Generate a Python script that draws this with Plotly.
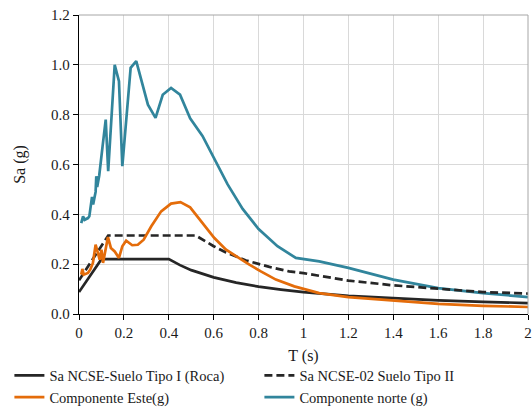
import plotly.graph_objects as go

# ---- data ----
t_roca = [0.0, 0.1, 0.4, 0.45, 0.5, 0.6, 0.7, 0.8, 0.9, 1.0, 1.2, 1.4, 1.6, 1.8, 2.0]
sa_roca = [0.088, 0.22, 0.22, 0.196, 0.176, 0.147, 0.126, 0.11, 0.098, 0.088, 0.073, 0.063, 0.055, 0.049, 0.044]

t_tipo2 = [0.0, 0.13, 0.52, 0.6, 0.655, 0.744, 0.848, 0.936, 1.0, 1.2, 1.4, 1.6, 1.8, 2.0]
sa_tipo2 = [0.135, 0.315, 0.315, 0.272, 0.247, 0.215, 0.189, 0.171, 0.164, 0.134, 0.115, 0.1, 0.088, 0.082]

t_este = [0.01, 0.015, 0.021, 0.03, 0.04, 0.05, 0.062, 0.074, 0.079, 0.085, 0.092, 0.1, 0.107,
          0.118, 0.129, 0.142, 0.159, 0.178, 0.193, 0.21, 0.237, 0.262, 0.288, 0.322, 0.366,
          0.41, 0.452, 0.495, 0.551, 0.603, 0.655, 0.707, 0.759, 0.81, 0.877, 0.959, 1.07,
          1.2, 1.4, 1.6, 1.8, 2.0]
sa_este = [0.158, 0.181, 0.158, 0.162, 0.165, 0.178, 0.205, 0.278, 0.255, 0.242, 0.218, 0.258, 0.205,
           0.26, 0.309, 0.265, 0.251, 0.225, 0.272, 0.294, 0.276, 0.278, 0.298, 0.352, 0.412,
           0.443, 0.449, 0.428, 0.365, 0.305, 0.258, 0.227, 0.198, 0.171, 0.138, 0.111, 0.084,
           0.068, 0.055, 0.041, 0.033, 0.028]

t_norte = [0.01, 0.018, 0.025, 0.031, 0.04, 0.046, 0.053, 0.058, 0.063, 0.068, 0.074, 0.077,
           0.081, 0.085, 0.09, 0.105, 0.119, 0.13, 0.159, 0.178, 0.193, 0.23, 0.255, 0.307,
           0.341, 0.373, 0.41, 0.45, 0.495, 0.55, 0.611, 0.662, 0.729, 0.8, 0.884, 0.966,
           1.07, 1.2, 1.4, 1.6, 1.8, 2.0]
sa_norte = [0.365, 0.392, 0.378, 0.38, 0.385, 0.392, 0.452, 0.47, 0.44, 0.462, 0.49, 0.553,
            0.51, 0.53, 0.555, 0.673, 0.78, 0.573, 1.0, 0.934, 0.593, 0.988, 1.015, 0.84,
            0.787, 0.88, 0.907, 0.88, 0.785, 0.715, 0.606, 0.52, 0.422, 0.341, 0.272, 0.225,
            0.211, 0.185, 0.138, 0.104, 0.084, 0.068]

x_ticks = [0, 0.2, 0.4, 0.6, 0.8, 1.0, 1.2, 1.4, 1.6, 1.8, 2.0]
x_tick_labels = ["0", "0.2", "0.4", "0.6", "0.8", "1", "1.2", "1.4", "1.6", "1.8", "2"]
y_ticks = [0.0, 0.2, 0.4, 0.6, 0.8, 1.0, 1.2]
y_tick_labels = ["0.0", "0.2", "0.4", "0.6", "0.8", "1.0", "1.2"]

FONT = "Liberation Serif, Times New Roman, serif"
TXT = "#1a1a1a"

fig = go.Figure()
fig.add_trace(go.Scatter(x=t_norte, y=sa_norte, mode="lines", name="Componente norte (g)",
                         line=dict(color="#31859C", width=2.7), legendrank=4))
fig.add_trace(go.Scatter(x=t_tipo2, y=sa_tipo2, mode="lines", name="Sa NCSE-02 Suelo Tipo II",
                         line=dict(color="#262626", width=2.7, dash="8px,4px"), legendrank=2))
fig.add_trace(go.Scatter(x=t_roca, y=sa_roca, mode="lines", name="Sa NCSE-Suelo Tipo I (Roca)",
                         line=dict(color="#262626", width=2.7), legendrank=1))
fig.add_trace(go.Scatter(x=t_este, y=sa_este, mode="lines", name="Componente Este(g)",
                         line=dict(color="#E46C0A", width=2.7), legendrank=3))

fig.update_layout(
    width=532, height=407,
    margin=dict(l=79, r=4, t=15, b=93, autoexpand=False),
    paper_bgcolor="white", plot_bgcolor="white",
    font=dict(family=FONT, size=15, color=TXT),
    showlegend=True,
    legend=dict(orientation="h", x=-0.155, xanchor="left", y=-0.152, yanchor="top",
                font=dict(family=FONT, size=14.5, color=TXT),
                entrywidth=205, entrywidthmode="pixels",
                bgcolor="rgba(0,0,0,0)", tracegroupgap=0, itemwidth=30),
    shapes=[
        dict(type="line", xref="paper", yref="paper", x0=0, x1=1, y0=1, y1=1,
             line=dict(color="#A6A6A6", width=1)),
        dict(type="line", xref="paper", yref="paper", x0=1, x1=1, y0=0, y1=1,
             line=dict(color="#A6A6A6", width=1)),
    ],
)
fig.update_xaxes(range=[0, 2], tickvals=x_ticks, ticktext=x_tick_labels,
                 showgrid=True, gridcolor="#D9D9D9", gridwidth=1,
                 showline=True, linecolor="black", linewidth=1.3,
                 ticks="outside", ticklen=5, tickcolor="black",
                 zeroline=False, automargin=False, ticklabeloverflow="allow",
                 title=dict(text="T (s)", font=dict(family=FONT, size=16, color=TXT), standoff=9))
fig.update_yaxes(range=[0, 1.2], tickvals=y_ticks, ticktext=y_tick_labels,
                 showgrid=True, gridcolor="#D9D9D9", gridwidth=1,
                 showline=True, linecolor="black", linewidth=1.3,
                 ticks="outside", ticklen=5, tickcolor="black",
                 zeroline=False, automargin=False, ticklabeloverflow="allow",
                 title=dict(text="Sa (g)", font=dict(family=FONT, size=16, color=TXT), standoff=21))

fig.write_html("out.html", config={"displayModeBar": False},
               post_script="document.body.style.margin='0';document.body.style.overflow='hidden';")
